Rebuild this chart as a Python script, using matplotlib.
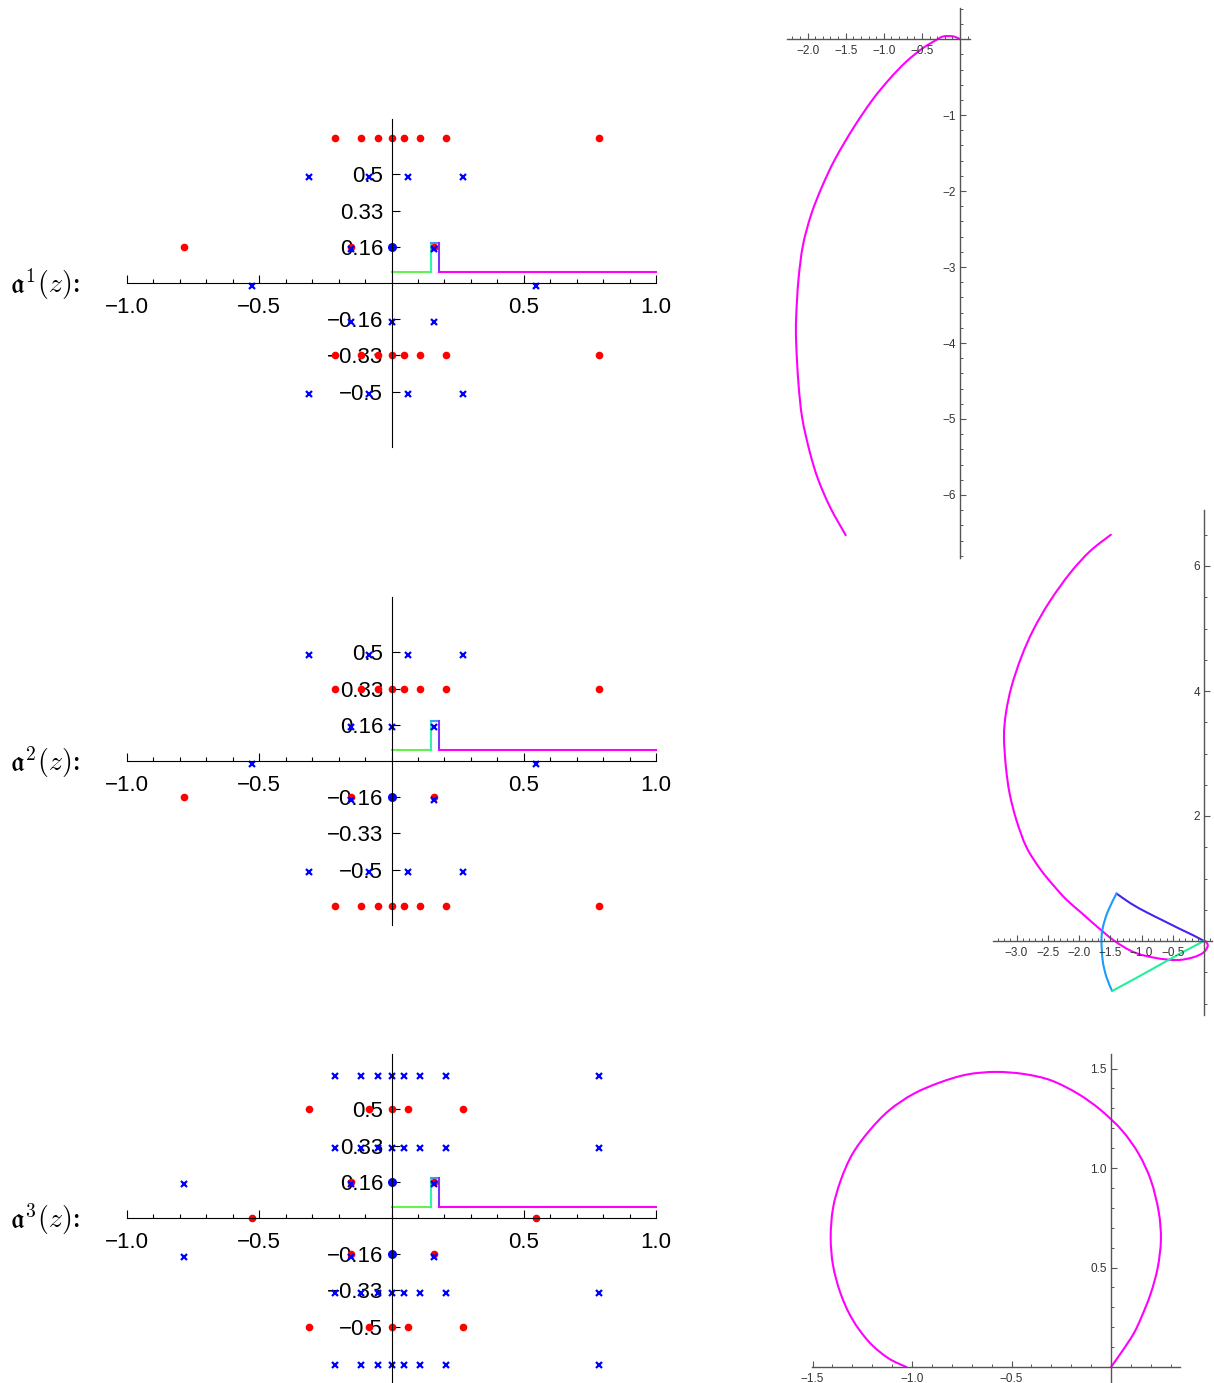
import matplotlib.pyplot as plt
from matplotlib.ticker import MultipleLocator
from matplotlib.path import Path
from matplotlib.patches import PathPatch

plt.rcParams['mathtext.fontset'] = 'cm'
plt.rcParams['font.family'] = ['Liberation Sans', 'DejaVu Sans']

# --- data ---
sixth = 1 / 6
third = 1 / 3
row8 = [-0.215, -0.115, -0.052, 0.0, 0.048, 0.107, 0.205, 0.784]
row4 = [-0.312, -0.085, 0.064, 0.271]
row5 = [-0.312, -0.085, 0.0, 0.064, 0.271]
row3 = [-0.785, -0.155, 0.161]
row3x = [-0.155, 0.002, 0.161]
row2 = [-0.155, 0.161]
row_axis = [-0.526, 0.546]
xoff = -0.012  # the x glyphs sit a little below their row

# contour (keyhole) in the z plane, one list per coloured piece
cont_x = [[0.0, 0.148], [0.148, 0.148], [0.148, 0.18], [0.18, 0.18], [0.18, 1.0]]
cont_y = [[0.052, 0.052], [0.052, 0.183], [0.183, 0.183], [0.183, 0.052], [0.052, 0.052]]
cont_c = ['#66f24d', '#33f2aa', '#3aa0ff', '#7a33ff', '#ff00ff']

# image curves
c1_x = [0.0, -0.09, -0.22, -0.31, -0.49, -0.71, -0.93, -1.15, -1.40, -1.64, -1.81, -1.95,
        -2.06, -2.12, -2.15, -2.15, -2.12, -2.07, -1.97, -1.86, -1.70, -1.50]
c1_y = [0.0, 0.036, 0.036, -0.01, -0.12, -0.30, -0.53, -0.80, -1.17, -1.58, -1.94, -2.30,
        -2.71, -3.17, -3.67, -3.99, -4.53, -4.99, -5.44, -5.80, -6.17, -6.53]

c2_x = [-1.49, -1.82, -2.14, -2.47, -2.73, -2.92, -3.08, -3.17, -3.20, -3.17, -3.11, -3.00,
        -2.84, -2.62, -2.40, -2.20, -1.96, -1.70, -1.43, -1.12, -0.78, -0.43, -0.17, -0.01,
        0.06, 0.03, 0.0]
c2_y = [6.50, 6.24, 5.89, 5.43, 4.98, 4.55, 4.07, 3.64, 3.27, 2.79, 2.36, 1.93,
        1.50, 1.15, 0.88, 0.66, 0.45, 0.22, 0.0, -0.18, -0.27, -0.305, -0.26, -0.185,
        -0.08, -0.01, 0.0]
blue_x = [0.0, -0.17, -0.40, -0.66, -0.92, -1.17, -1.40]
blue_y = [0.0, 0.09, 0.20, 0.33, 0.46, 0.60, 0.76]
arc_x = [-1.40, -1.54, -1.62, -1.64, -1.62, -1.56, -1.47]
arc_y = [0.76, 0.47, 0.21, 0.0, -0.32, -0.58, -0.80]
teal_x = [-1.47, -1.10, -0.74, -0.38, 0.0]
teal_y = [-0.80, -0.60, -0.40, -0.20, 0.0]

c3_x = [0.0, 0.06, 0.115, 0.154, 0.2, 0.235, 0.251, 0.24, 0.201, 0.14, 0.057, -0.05,
        -0.164, -0.30, -0.435, -0.579, -0.723, -0.86, -0.994, -1.115, -1.215, -1.30,
        -1.359, -1.397, -1.409, -1.397, -1.359, -1.30, -1.215, -1.12, -1.028]
c3_y = [0.0, 0.085, 0.17, 0.253, 0.37, 0.5, 0.64, 0.78, 0.937, 1.07, 1.187, 1.29,
        1.372, 1.44, 1.472, 1.483, 1.47, 1.43, 1.372, 1.29, 1.187, 1.07,
        0.937, 0.80, 0.653, 0.51, 0.369, 0.24, 0.125, 0.045, 0.0]

W, H = 1214, 1383
fig = plt.figure(figsize=(W / 100, H / 100), dpi=100)


def px_axes(left, top, right, bottom):
    return fig.add_axes([left / W, 1 - bottom / H, (right - left) / W, (bottom - top) / H])


def center_spines(ax):
    ax.spines['top'].set_visible(False)
    ax.spines['right'].set_visible(False)
    ax.spines['left'].set_position(('data', 0))
    ax.spines['bottom'].set_position(('data', 0))
    ax.patch.set_visible(False)


def smooth_curve(ax, xs, ys, color, lw=1.5):
    # Catmull-Rom through the read points, drawn as cubic Bezier segments
    pts = list(zip(xs, ys))
    n = len(pts)
    verts = [pts[0]]
    codes = [Path.MOVETO]
    for i in range(n - 1):
        p0 = pts[max(i - 1, 0)]
        p1 = pts[i]
        p2 = pts[i + 1]
        p3 = pts[min(i + 2, n - 1)]
        c1 = (p1[0] + (p2[0] - p0[0]) / 6, p1[1] + (p2[1] - p0[1]) / 6)
        c2 = (p2[0] - (p3[0] - p1[0]) / 6, p2[1] - (p3[1] - p1[1]) / 6)
        verts += [c1, c2, p2]
        codes += [Path.CURVE4] * 3
    ax.add_patch(PathPatch(Path(verts, codes), fill=False, edgecolor=color, lw=lw,
                           capstyle='round', joinstyle='round'))


def left_panel(yc, n, red, bx, bdot):
    ax = px_axes(127, yc - 164, 656, yc + 164)
    ax.set_xlim(-1, 1)
    ax.set_ylim(-0.755, 0.755)
    center_spines(ax)
    ax.set_xticks([-1, -0.5, 0.5, 1])
    ax.set_xticklabels(['−1.0', '−0.5', '0.5', '1.0'])
    ax.xaxis.set_minor_locator(MultipleLocator(0.1))
    ax.set_yticks([-0.5, -third, -sixth, sixth, third, 0.5])
    ax.set_yticklabels(['−0.5', '−0.33', '−0.16', '0.16', '0.33', '0.5'])
    ax.tick_params(which='major', direction='in', length=6, width=0.8, labelsize=16, pad=6)
    ax.tick_params(axis='x', which='major', pad=10)
    ax.tick_params(which='minor', direction='in', length=3, width=0.8)
    for xs, ys, c in zip(cont_x, cont_y, cont_c):
        ax.plot(xs, ys, color=c, lw=1.5, clip_on=False, zorder=1)
    for xs, y in red:
        ax.plot(xs, [y] * len(xs), 'o', color='red', ms=5.5, mew=0, zorder=2)
    for xs, y in bx:
        ax.plot(xs, [y + xoff] * len(xs), 'x', color='blue', ms=5, mew=1.6, zorder=2)
    for y in bdot:
        ax.plot([0], [y], 'o', color='blue', ms=6.5, mew=0, zorder=2)
    fig.text(10 / W, 1 - (yc + 1) / H, r'$\mathfrak{a}^{%d}(z)$:' % n, fontsize=20,
             va='center', ha='left', family=['DejaVu Serif'])


left_panel(283, 1,
           [(row8, 2 / 3), (row8, -third), (row3, sixth)],
           [(row4, 0.5), (row4, -0.5), (row_axis, 0.0), (row3x, -sixth), (row2, sixth)],
           [sixth])
left_panel(761, 2,
           [(row8, third), (row8, -2 / 3), (row3, -sixth)],
           [(row4, 0.5), (row4, -0.5), (row_axis, 0.0), (row3x, sixth), (row2, -sixth)],
           [-sixth])
left_panel(1218, 3,
           [(row5, 0.5), (row5, -0.5), (row_axis, 0.0), (row2, sixth), (row2, -sixth)],
           [(row8, 2 / 3), (row8, third), (row8, -third), (row8, -2 / 3),
            (row3, sixth), (row3, -sixth)],
           [sixth, -sixth])


def right_panel(box, xlim, ylim, xt, xmin, yt, ymin):
    ax = px_axes(*box)
    ax.set_xlim(*xlim)
    ax.set_ylim(*ylim)
    center_spines(ax)
    for s in ['left', 'bottom']:
        ax.spines[s].set_color('#555555')
        ax.spines[s].set_linewidth(1.0)
    ax.set_xticks(xt)
    ax.set_xticklabels(['%.1f' % v if v >= 0 else '−%.1f' % -v for v in xt])
    ax.set_yticks(yt)
    ax.xaxis.set_minor_locator(MultipleLocator(xmin))
    ax.yaxis.set_minor_locator(MultipleLocator(ymin))
    ax.tick_params(which='major', direction='in', length=4, width=0.8, color='#555555',
                   labelsize=8.5, labelcolor='#333333', pad=3)
    ax.tick_params(axis='x', which='major', pad=4.5)
    ax.tick_params(which='minor', direction='in', length=2.2, width=0.7, color='#555555')
    return ax


ax1 = right_panel((787, 8, 970, 558), (-2.27, 0.13), (-6.83, 0.41),
                  [-2.0, -1.5, -1.0, -0.5], 0.1, [-1, -2, -3, -4, -5, -6], 0.2)
ax1.set_yticklabels(['−1', '−2', '−3', '−4', '−5', '−6'])
smooth_curve(ax1, c1_x, c1_y, '#ff00ff')

ax2 = right_panel((993, 510, 1212, 1015), (-3.376, 0.128), (-1.184, 6.896),
                  [-3.0, -2.5, -2.0, -1.5, -1.0, -0.5], 0.1, [2, 4, 6], 0.5)
ax2.set_yticklabels(['2', '4', '6'])
smooth_curve(ax2, c2_x, c2_y, '#ff00ff')
smooth_curve(ax2, blue_x, blue_y, '#4a22f0')
smooth_curve(ax2, arc_x, arc_y, '#1a9cff')
smooth_curve(ax2, teal_x, teal_y, '#22f09a')

ax3 = right_panel((812, 1054, 1180, 1383), (-1.503, 0.347), (-0.08, 1.573),
                  [-1.5, -1.0, -0.5], 0.1, [0.5, 1.0, 1.5], 0.1)
ax3.set_yticklabels(['0.5', '1.0', '1.5'])
smooth_curve(ax3, c3_x, c3_y, '#ff00ff')

fig.savefig('out.png', dpi=100)
